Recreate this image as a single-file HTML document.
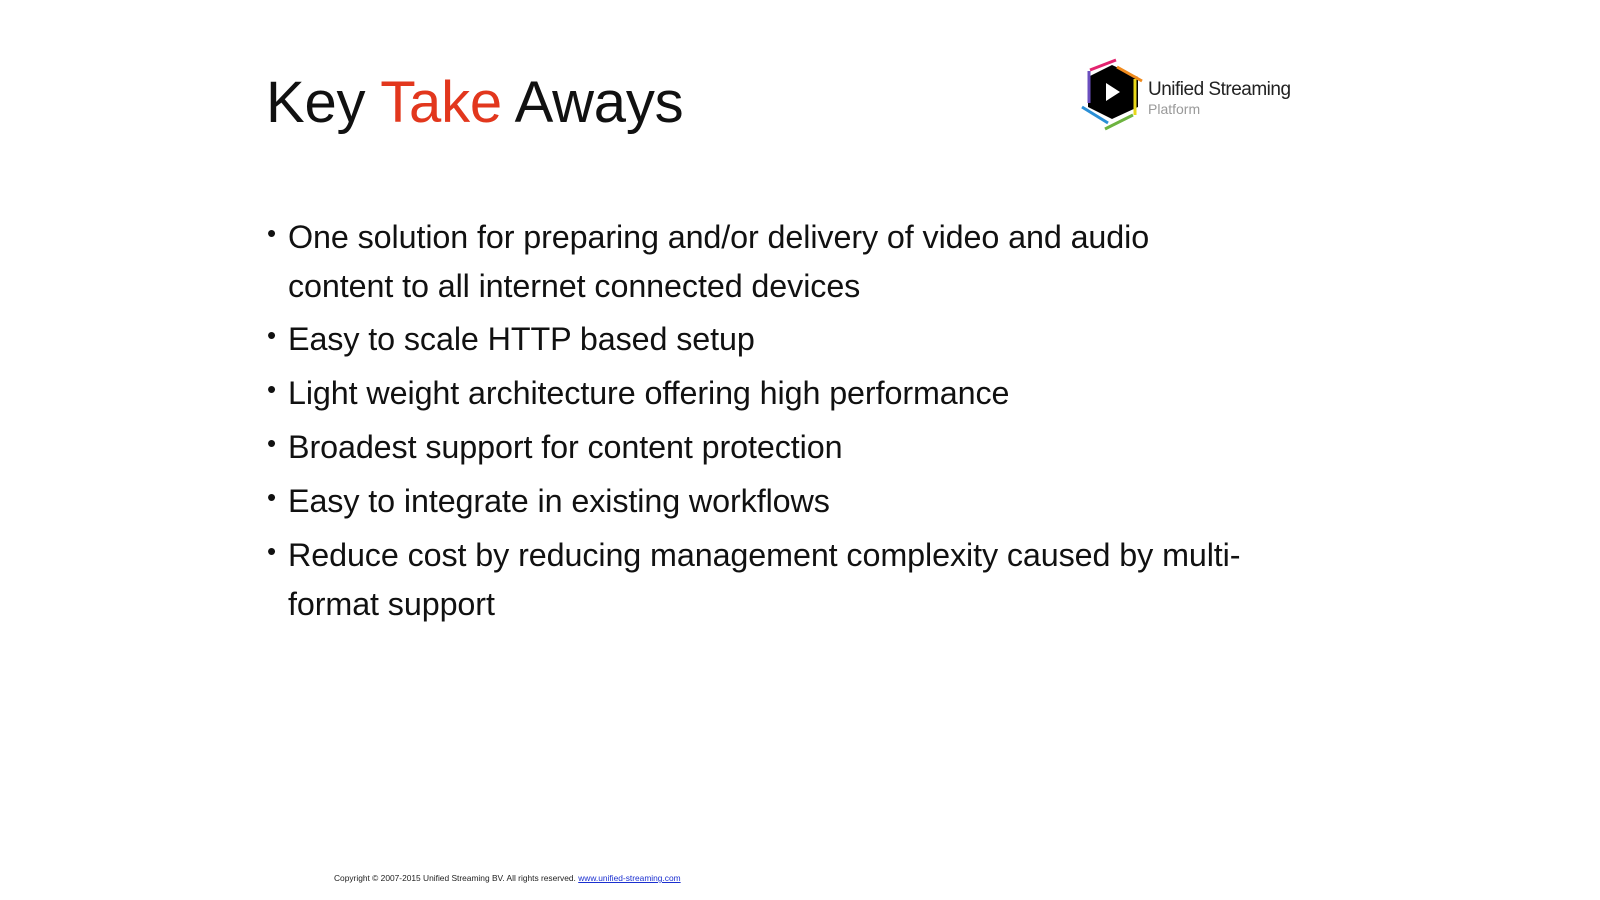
<!DOCTYPE html>
<html><head><style>
body{margin:0;width:1600px;height:900px;background:#fff;font-family:"Liberation Sans",sans-serif;position:relative;overflow:hidden;color:#111}
.t{position:absolute;left:266px;top:69px;font-size:58px;letter-spacing:-0.2px}
.b{position:absolute;left:288px;font-size:32.3px;line-height:49px;letter-spacing:-0.1px}
.b:before{content:"•";position:absolute;left:-21px;top:-4px;font-size:26px}
.f{position:absolute;left:334px;top:873px;font-size:8.4px;color:#222}
.f span{color:#1a2fd0;text-decoration:underline}
</style></head><body>
<div class="t">Key <span style="color:#e2371d">Take</span> Aways</div>
<svg style="position:absolute;left:1080px;top:57px" width="80" height="75" viewBox="0 0 80 75">
<polygon points="32,8 58,20 58,50 32,62 8,50 8,20" fill="#000"/>
<polygon points="26,26 26,44 40,35" fill="#fff"/>
<line x1="9" y1="14" x2="9" y2="46" stroke="#6b4fbf" stroke-width="3"/>
<line x1="10" y1="13" x2="36" y2="3" stroke="#e3236f" stroke-width="3"/>
<line x1="37" y1="10" x2="62" y2="24" stroke="#f08a1c" stroke-width="3"/>
<line x1="55" y1="22" x2="55" y2="58" stroke="#e8d81a" stroke-width="3"/>
<line x1="53" y1="58" x2="25" y2="72" stroke="#6db33f" stroke-width="3"/>
<line x1="2" y1="50" x2="28" y2="66" stroke="#2a8fd6" stroke-width="3"/>
</svg>
<div style="position:absolute;left:1148px;top:79px;font-size:19px;letter-spacing:-0.5px;color:#222">Unified Streaming</div>
<div style="position:absolute;left:1148px;top:101px;font-size:14px;color:#999">Platform</div>
<div class="b" style="top:213px">One solution for preparing and/or delivery of video and audio<br>content to all internet connected devices</div>
<div class="b" style="top:315px">Easy to scale HTTP based setup</div>
<div class="b" style="top:369px">Light weight architecture offering high performance</div>
<div class="b" style="top:423px">Broadest support for content protection</div>
<div class="b" style="top:477px">Easy to integrate in existing workflows</div>
<div class="b" style="top:531px">Reduce cost by reducing management complexity caused by multi-<br>format support</div>
<div class="f">Copyright © 2007-2015 Unified Streaming BV. All rights reserved. <span>www.unified-streaming.com</span></div>
</body></html>
